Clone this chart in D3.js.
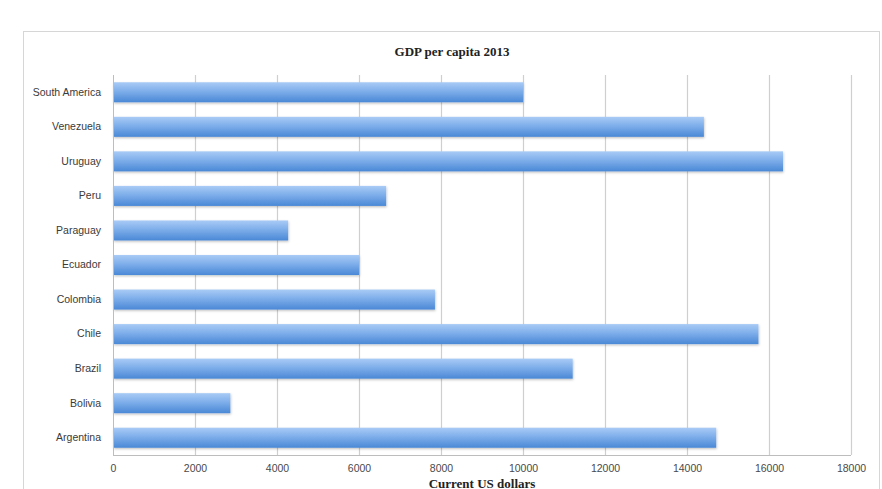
<!DOCTYPE html>
<html>
<head>
    <title>GDP per capita 2013</title>
    <script src="https://d3js.org/d3.v7.min.js"></script>
    <style>
        body { margin: 0; background: #fff; }
        svg { display: block; }
        .cat text { font-family: "Liberation Sans", Arial, sans-serif; font-size: 10.5px; fill: #3a3a3a; }
        .xaxis text { font-family: "Liberation Sans", Arial, sans-serif; font-size: 10.5px; fill: #4a4a4a; }
        .title { font-family: "Liberation Serif", "Times New Roman", serif; font-weight: bold; font-size: 13px; fill: #222; }
    </style>
</head>
<body>
    <svg width="882" height="489"></svg>
    <script>
        // Data (top to bottom)
        var countries = ["South America", "Venezuela", "Uruguay", "Peru", "Paraguay", "Ecuador",
                         "Colombia", "Chile", "Brazil", "Bolivia", "Argentina"];
        var gdp = [9990, 14400, 16330, 6650, 4260, 5990, 7840, 15730, 11200, 2850, 14700];
        var xTicks = [0, 2000, 4000, 6000, 8000, 10000, 12000, 14000, 16000, 18000];

        var data = countries.map(function(c, i) { return {name: c, value: gdp[i]}; });

        var svg = d3.select("svg"),
            margin = {top: 75, right: 31, bottom: 34, left: 113},
            width = 882 - margin.left - margin.right,
            height = 489 - margin.top - margin.bottom;

        // gradient for bars
        var defs = svg.append("defs");
        var grad = defs.append("linearGradient")
            .attr("id", "barGrad").attr("x1", 0).attr("y1", 0).attr("x2", 0).attr("y2", 1);
        grad.append("stop").attr("offset", "0%").attr("stop-color", "#a9cbf6");
        grad.append("stop").attr("offset", "45%").attr("stop-color", "#7eaeea");
        grad.append("stop").attr("offset", "100%").attr("stop-color", "#4a88d6");
        var shadow = defs.append("filter").attr("id", "shadow")
            .attr("x", "-5%").attr("y", "-20%").attr("width", "110%").attr("height", "150%");
        shadow.append("feDropShadow").attr("dx", 0.5).attr("dy", 1.2).attr("stdDeviation", 0.8)
            .attr("flood-color", "#000").attr("flood-opacity", 0.25);

        // outer frame
        svg.append("rect")
            .attr("x", 23.5).attr("y", 31.5).attr("width", 856).attr("height", 480)
            .attr("fill", "none").attr("stroke", "#d6d6d6");

        var g = svg.append("g").attr("transform", "translate(" + margin.left + "," + margin.top + ")");

        var x = d3.scaleLinear().domain([0, 18000]).range([0, width]);
        var y = d3.scaleBand().domain(countries).range([0, height]).paddingInner(0.42).paddingOuter(0.21);

        // gridlines
        g.selectAll(".grid").data(xTicks.slice(1)).enter().append("line")
            .attr("x1", function(d) { return Math.round(x(d)) + 0.5; })
            .attr("x2", function(d) { return Math.round(x(d)) + 0.5; })
            .attr("y1", 0).attr("y2", height)
            .attr("stroke", "#cfcfcf").attr("stroke-width", 1.2);

        // bars
        g.selectAll(".bar").data(data).enter().append("rect")
            .attr("x", 0.5)
            .attr("y", function(d) { return y(d.name); })
            .attr("width", function(d) { return x(d.value); })
            .attr("height", y.bandwidth())
            .attr("fill", "url(#barGrad)")
            .attr("filter", "url(#shadow)");

        // axes lines
        g.append("line").attr("x1", 0.5).attr("x2", 0.5).attr("y1", 0).attr("y2", height)
            .attr("stroke", "#bdbdbd");
        g.append("line").attr("x1", 0).attr("x2", width).attr("y1", height + 0.5).attr("y2", height + 0.5)
            .attr("stroke", "#bdbdbd");

        // category labels
        var yAxis = g.append("g").attr("class", "cat")
            .call(d3.axisLeft(y).tickSize(0).tickPadding(12));
        yAxis.select(".domain").remove();

        // x axis labels
        var xAxis = g.append("g").attr("class", "xaxis")
            .attr("transform", "translate(0," + height + ")")
            .call(d3.axisBottom(x).tickValues(xTicks).tickSize(0).tickPadding(10).tickFormat(d3.format("d")));
        xAxis.select(".domain").remove();

        // title
        svg.append("text").attr("class", "title")
            .attr("x", 452).attr("y", 56).attr("text-anchor", "middle")
            .text("GDP per capita 2013");

        // axis title
        svg.append("text").attr("class", "title")
            .attr("x", margin.left + x(9000)).attr("y", 487.5).attr("text-anchor", "middle")
            .text("Current US dollars");
    </script>
</body>
</html>
